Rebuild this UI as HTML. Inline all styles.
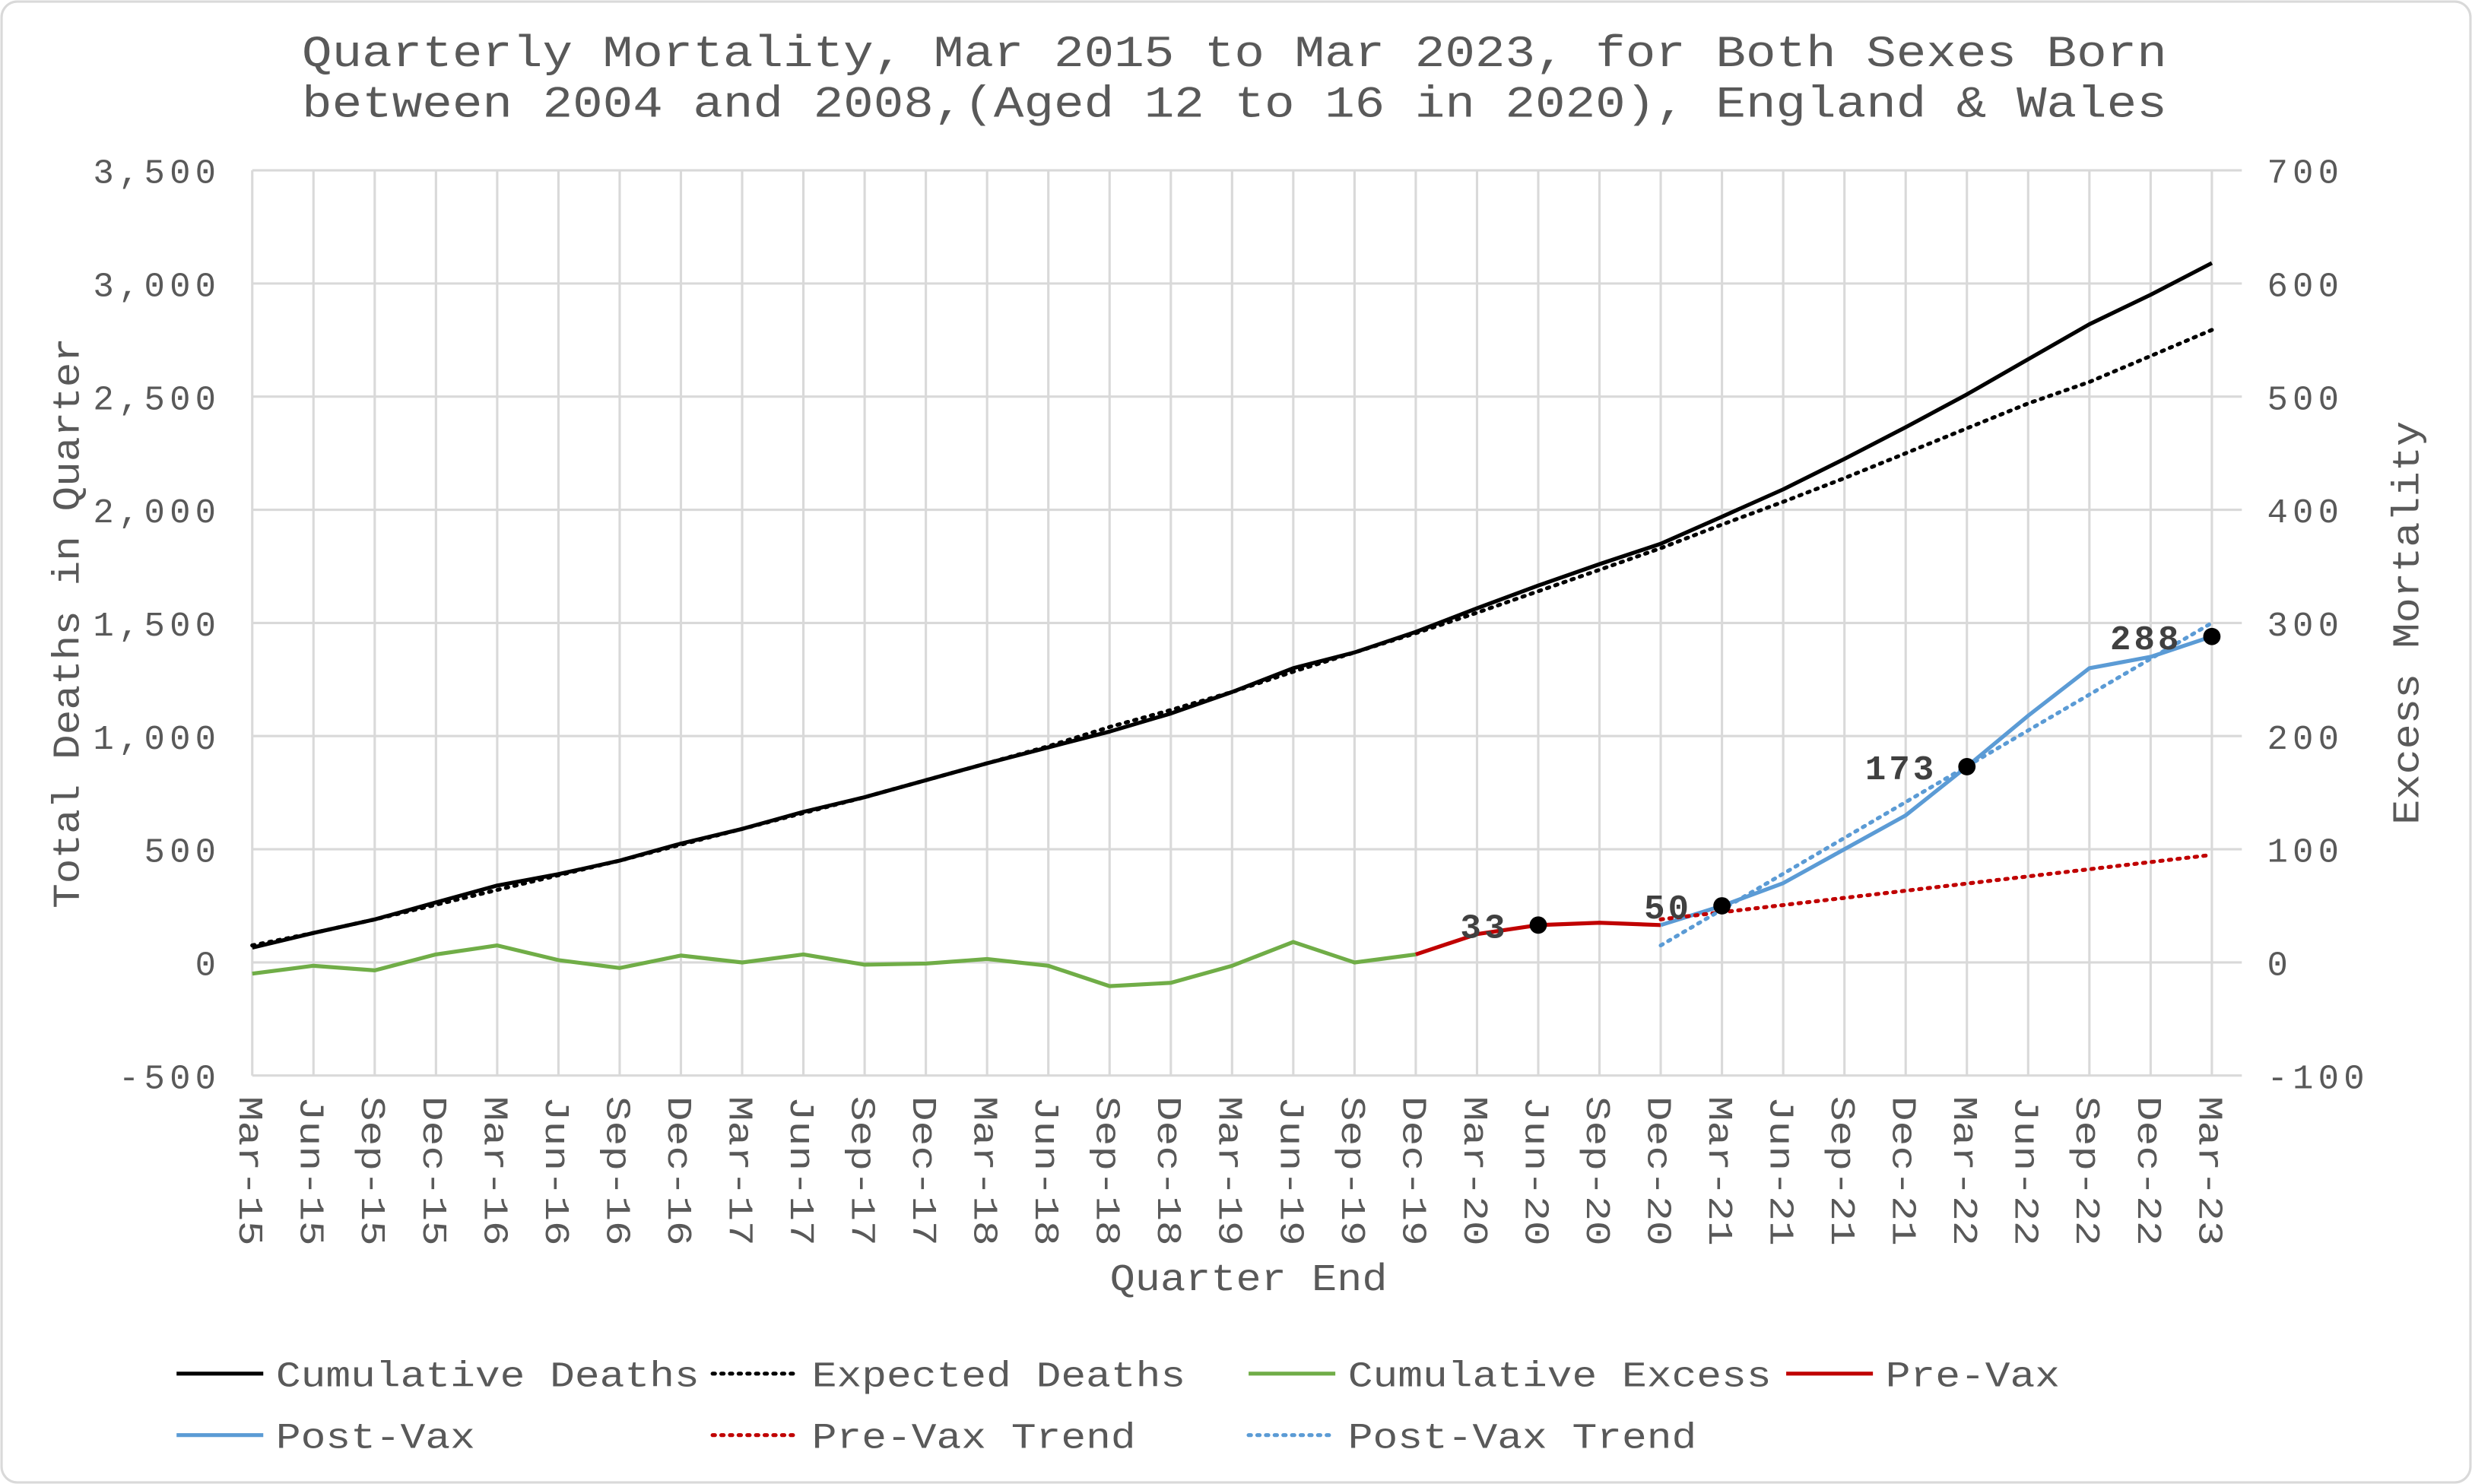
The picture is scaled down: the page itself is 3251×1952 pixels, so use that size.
<!DOCTYPE html>
<html><head><meta charset="utf-8"><style>
html,body{margin:0;padding:0;background:#fff}
svg{display:block}
text{font-family:"Liberation Mono",monospace;fill:#595959}
</style></head><body>
<svg id="chart" width="3251" height="1952" viewBox="0 0 1568 941" preserveAspectRatio="none" xmlns="http://www.w3.org/2000/svg">
<rect x="1" y="1" width="1566" height="939" rx="10" fill="#fff" stroke="#d9d9d9" stroke-width="1.5"/>
<g>
<text x="783" y="42" text-anchor="middle" font-size="28" textLength="1183" lengthAdjust="spacingAndGlyphs">Quarterly Mortality, Mar 2015 to Mar 2023, for Both Sexes Born</text>
<text x="783" y="74" text-anchor="middle" font-size="28" textLength="1183" lengthAdjust="spacingAndGlyphs">between 2004 and 2008,(Aged 12 to 16 in 2020), England &amp; Wales</text>
</g>
<g id="grid"></g>
<g id="axes"></g>
<g id="series"></g>
<text transform="translate(50,395) rotate(-90)" text-anchor="middle" font-size="24" textLength="362" lengthAdjust="spacingAndGlyphs">Total Deaths in Quarter</text>
<text transform="translate(1534,395) rotate(-90)" text-anchor="middle" font-size="24" textLength="256" lengthAdjust="spacingAndGlyphs">Excess Mortality</text>
<text x="792" y="818" text-anchor="middle" font-size="24" textLength="176" lengthAdjust="spacingAndGlyphs">Quarter End</text>
<g id="legend"></g>
</svg>
<script>
const categories=["Mar-15","Jun-15","Sep-15","Dec-15","Mar-16","Jun-16","Sep-16","Dec-16","Mar-17","Jun-17","Sep-17","Dec-17","Mar-18","Jun-18","Sep-18","Dec-18","Mar-19","Jun-19","Sep-19","Dec-19","Mar-20","Jun-20","Sep-20","Dec-20","Mar-21","Jun-21","Sep-21","Dec-21","Mar-22","Jun-22","Sep-22","Dec-22","Mar-23"];
const cumulativeDeaths=[65,130,190,265,340,390,450,525,590,665,730,805,880,950,1020,1100,1195,1300,1370,1460,1565,1665,1760,1850,1970,2090,2225,2365,2510,2665,2820,2950,3090];
const expectedDeaths=[75,130,190,255,320,385,450,520,590,660,730,805,880,955,1040,1115,1195,1285,1370,1455,1545,1640,1735,1830,1935,2035,2140,2250,2360,2470,2565,2680,2795];
const cumulativeExcess=[-10,-3,-7,7,15,2,-5,6,0,7,-2,-1,3,-3,-21,-18,-3,18,0,7];
const preVax=[7,25,33,35,33];
const preVaxStart=19;
const postVax=[33,50,70,100,130,173,218,260,270,288];
const postVaxStart=23;
const preVaxTrend=[38,95];
const postVaxTrend=[15,300];
const trendIdx=[23,32];
const markerIdx=[21,24,28,32];
const markerVals=[33,50,173,288];
const leftTicks=[-500,0,500,1000,1500,2000,2500,3000,3500];
const leftTickLabels=["-500","0","500","1,000","1,500","2,000","2,500","3,000","3,500"];
const rightTicks=[-100,0,100,200,300,400,500,600,700];

const L=160,R=1422,T=108,B=682,X0=160,X1=1403;
const NS="http://www.w3.org/2000/svg";
const xs=i=>X0+(X1-X0)*i/(categories.length-1);
const yl=v=>B-(v+500)/4000*(B-T);
const yr=v=>B-(v+100)/800*(B-T);
function mk(tag,attrs,parent){const e=document.createElementNS(NS,tag);for(const k in attrs)e.setAttribute(k,attrs[k]);parent.appendChild(e);return e;}
const grid=document.getElementById('grid'),axes=document.getElementById('axes'),ser=document.getElementById('series'),leg=document.getElementById('legend');
leftTicks.forEach((v,i)=>{
 const l=mk('line',{x1:L,x2:R,y1:yl(v),y2:yl(v),stroke:'#d9d9d9','stroke-width':1.5},grid);
 
 
 const t=mk('text',{x:140,y:yl(v)+8,'text-anchor':'end','font-size':22,'letter-spacing':3},axes);
 t.textContent=leftTickLabels[i];
 
 
});
rightTicks.forEach(v=>{
 const t=mk('text',{x:1438,y:yr(v)+8,'text-anchor':'start','font-size':22,'letter-spacing':3},axes);
 t.textContent=String(v);
 
 
});
categories.forEach((c,i)=>{
 const l=mk('line',{x1:xs(i),x2:xs(i),y1:T,y2:B,stroke:'#d9d9d9','stroke-width':1.5},grid);
 
 
 const t=mk('text',{transform:`translate(${xs(i)-8},695) rotate(90)`,'font-size':22,textLength:95,lengthAdjust:'spacingAndGlyphs'},axes);
 t.textContent=c;
 
 
});
function line(vals,start,yf,color,dash,name,w){
 const pts=vals.map((v,i)=>xs(start+i).toFixed(1)+','+yf(v).toFixed(1)).join(' ');
 const a={points:pts,fill:'none',stroke:color,'stroke-width':w||2.5,'stroke-linejoin':'round'};
 if(dash){a['stroke-dasharray']='1.5 4';a['stroke-linecap']='round';}
 const p=mk('polyline',a,ser);
 
 
}
line(expectedDeaths,0,yl,'#000',true,'expected-deaths-line',2.5);
line(cumulativeDeaths,0,yl,'#000',false,'cumulative-deaths-line');
line(cumulativeExcess,0,yr,'#70ad47',false,'cumulative-excess-line');
line(preVax,preVaxStart,yr,'#c00000',false,'pre-vax-line');
line(postVax,postVaxStart,yr,'#5b9bd5',false,'post-vax-line');
function trend(vals,color,name){
 const p=mk('line',{x1:xs(trendIdx[0]),y1:yr(vals[0]),x2:xs(trendIdx[1]),y2:yr(vals[1]),stroke:color,'stroke-width':2.5,'stroke-dasharray':'1.5 4','stroke-linecap':'round'},ser);
 
 
}
trend(preVaxTrend,'#c00000','pre-vax-trend');
trend(postVaxTrend,'#5b9bd5','post-vax-trend');
markerIdx.forEach((ix,k)=>{
 const c=mk('circle',{cx:xs(ix),cy:yr(markerVals[k]),r:5.5,fill:'#000'},ser);
 
 
 const t=mk('text',{x:xs(ix)-19,y:yr(markerVals[k])+8,'text-anchor':'end','font-size':22,'letter-spacing':2,'font-weight':'bold',style:'fill:#404040'},ser);
 t.textContent=String(markerVals[k]);
 
 
});
const legendItems=[
 ["Cumulative Deaths",112,871,'#000',false],["Expected Deaths",452,871,'#000',true],["Cumulative Excess",792,871,'#70ad47',false],["Pre-Vax",1133,871,'#c00000',false],
 ["Post-Vax",112,910,'#5b9bd5',false],["Pre-Vax Trend",452,910,'#c00000',true],["Post-Vax Trend",792,910,'#5b9bd5',true]];
legendItems.forEach(it=>{
 const a={x1:it[1],x2:it[1]+55,y1:it[2],y2:it[2],stroke:it[3],'stroke-width':2.5};
 if(it[4]){a['stroke-dasharray']='1.5 4';a['stroke-linecap']='round';}
 const l=mk('line',a,leg);
 
 
 const t=mk('text',{x:it[1]+63,y:it[2]+8,'font-size':23,textLength:it[0].length*15.8,lengthAdjust:'spacingAndGlyphs'},leg);
 t.textContent=it[0];
 
 
});
</script>
</body></html>
